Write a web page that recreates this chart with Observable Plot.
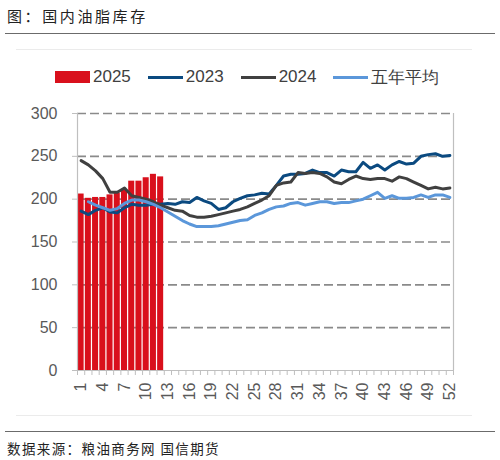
<!DOCTYPE html>
<html lang="zh">
<head>
<meta charset="utf-8">
<title>国内油脂库存</title>
<script src="https://cdn.jsdelivr.net/npm/d3@7"></script>
<script src="https://cdn.jsdelivr.net/npm/@observablehq/plot@0.6"></script>
<style>
  body {
    margin: 0;
    width: 500px;
    height: 460px;
    position: relative;
    background: #fff;
    overflow: hidden;
  }
  #title {
    position: absolute;
    left: 7px;
    top: 5px;
    font-family: "Noto Sans CJK SC", sans-serif;
    font-size: 15px;
    letter-spacing: 2.6px;
    color: #222;
  }
  .hr {
    position: absolute;
    left: 5px;
    width: 490px;
    height: 0;
    border-top: 1.5px solid #6b6b6b;
  }
  .thin {
    position: absolute;
    left: 16px;
    width: 456px;
    height: 0;
    border-top: 1px solid #ebebeb;
  }
  #legend {
    position: absolute;
    left: 55px;
    top: 66px;
    display: flex;
    align-items: center;
    font-family: "Liberation Sans", Arial, sans-serif;
    font-size: 17px;
    color: #404040;
    height: 22px;
  }
  #legend .sw { width: 35px; margin-right: 3px; }
  #legend .item { display: flex; align-items: center; margin-right: 17px; }
  #graphic {
    position: absolute;
    left: 0;
    top: 95px;
  }
  #source {
    position: absolute;
    left: 7px;
    top: 438px;
    font-family: "Noto Sans CJK SC", sans-serif;
    font-size: 13.5px;
    letter-spacing: 1.4px;
    color: #222;
  }
</style>
</head>
<body>
<div id="title">图：国内油脂库存</div>
<div class="hr" style="top:33px"></div>
<div class="thin" style="top:49px"></div>
<div id="legend"></div>
<div id="graphic"></div>
<div class="thin" style="top:415px"></div>
<div class="hr" style="top:431px"></div>
<div id="source">数据来源：粮油商务网 国信期货</div>

<script>
  // week categories
  const weeks = [1,2,3,4,5,6,7,8,9,10,11,12,13,14,15,16,17,18,19,20,21,22,23,24,25,26,
                 27,28,29,30,31,32,33,34,35,36,37,38,39,40,41,42,43,44,45,46,47,48,49,50,51,52];
  const labelWeeks = [1,4,7,10,13,16,19,22,25,28,31,34,37,40,43,46,49,52];
  const yTicks = [0,50,100,150,200,250,300];

  // 2025 (bars, weeks 1-12)
  const s2025 = [206,201,202,202,205,207,211,221,221,225,229,226];

  const s2023 = [186,182,187,190,185,184,190,194,193,193,194,194,195,194,197,196,202,198,195,188,190,197,201,204,205,207,
                 206,216,227,229,229,230,234,231,231,227,234,232,232,243,236,240,234,240,244,241,242,250,252,253,250,251];

  const s2024 = [245,240,233,224,208,208,213,204,202,200,197,193,190,187,186,181,179,179,180,182,184,186,188,191,195,199,
                 204,216,219,220,231,230,231,230,226,220,218,223,227,224,223,224,224,221,226,224,220,216,212,214,212,213];

  const s5yr = [null,197,193,190,187,189,195,199,199,197,194,190,185,180,175,171,168,168,168,169,171,173,175,176,181,184,
                188,191,192,195,196,193,195,197,197,195,196,196,198,200,204,208,201,204,201,201,202,205,202,205,205,202];

  const series = [
    {name: "2025", color: "#d9101c", type: "bar"},
    {name: "2023", color: "#0b4a80", type: "line", values: s2023},
    {name: "2024", color: "#404040", type: "line", values: s2024},
    {name: "五年平均", color: "#5b97da", type: "line", values: s5yr}
  ];

  const bars = s2025.map((v, i) => ({week: weeks[i], value: v}));
  const rows = s => weeks.map((w, i) => ({week: w, value: s[i]}));
  const xDomain = [0.5, 52.5];
  const boundaries = [0, ...weeks].map(w => w + 0.5);

  // legend
  const legend = document.getElementById("legend");
  series.forEach(s => {
    const item = document.createElement("div");
    item.className = "item";
    const sw = document.createElement("div");
    sw.className = "sw";
    sw.style.background = s.color;
    sw.style.height = s.type === "bar" ? "12px" : "3px";
    const t = document.createElement("span");
    t.textContent = s.name;
    item.appendChild(sw);
    item.appendChild(t);
    legend.appendChild(item);
  });

  const chart = Plot.plot({
    width: 500,
    height: 315,
    marginTop: 18,
    marginBottom: 40,
    marginLeft: 77,
    marginRight: 47,
    style: {fontFamily: "'Liberation Sans', Arial, sans-serif", color: "#595959", background: "transparent"},
    x: {domain: xDomain, axis: null},
    y: {domain: [0, 300], axis: null},
    marks: [
      Plot.ruleY(yTicks.filter(d => d > 0), {stroke: "#8a8a8a", strokeWidth: 1.6, strokeDasharray: "9,4"}),
      Plot.rectY(bars, {x1: d => d.week - 0.5, x2: d => d.week + 0.5, y: "value", fill: series[0].color, insetLeft: 0.6, insetRight: 0.6}),
      Plot.ruleX(xDomain, {stroke: "#bfbfbf", strokeWidth: 1.2}),
      Plot.ruleY([0], {stroke: "#bfbfbf", strokeWidth: 1.2}),
      ...series.filter(s => s.type === "line").map(s =>
        Plot.line(rows(s.values), {x: "week", y: "value", stroke: s.color, strokeWidth: 3, strokeLinejoin: "round"})
      ),
      Plot.axisY(yTicks, {label: null, tickSize: 5, tickPadding: 15, fontSize: 16, stroke: "#bfbfbf", fill: "#595959"}),
      Plot.axisX(boundaries, {label: null, tickSize: 5, tickFormat: () => "", stroke: "#bfbfbf"}),
      Plot.axisX(labelWeeks, {label: null, tickSize: 0, tickPadding: 12, tickRotate: -90, fontSize: 16, fill: "#595959"})
    ]
  });
  document.getElementById("graphic").appendChild(chart);
</script>
</body>
</html>
